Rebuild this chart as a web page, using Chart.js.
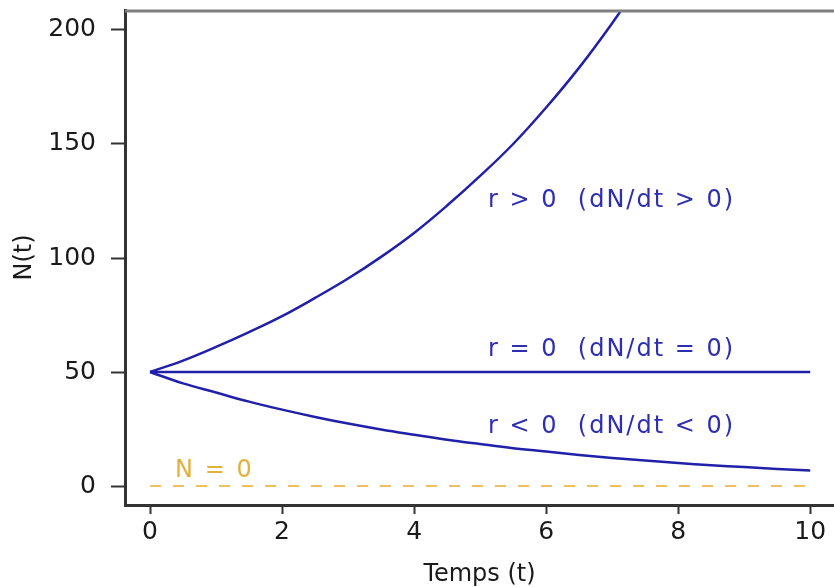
<!DOCTYPE html>
<html>
<head>
<meta charset="utf-8">
<script src="https://cdn.jsdelivr.net/npm/chart.js@4"></script>
<style>
  html, body { margin: 0; padding: 0; background: #fff; }
  #wrap { width: 834px; height: 587px; }
</style>
</head>
<body>
<div id="wrap"><canvas id="chart" width="834" height="587"></canvas></div>
<script>
// Data
const times = [0, 0.5, 1, 1.5, 2, 2.5, 3, 3.5, 4, 4.5, 5, 5.5, 6, 6.5, 7, 7.5, 8, 8.5, 9, 9.5, 10];
const growth = [50, 55, 61, 67.5, 74.5, 82.5, 91, 100.5, 111, 123, 136, 150, 166, 183.5, 203, 224];
const decline = [50, 45, 41, 37, 33.5, 30.3, 27.4, 24.8, 22.5, 20.3, 18.4, 16.6, 15.1, 13.6, 12.3, 11.2, 10.1, 9.1, 8.3, 7.5, 6.8];
const flatTimes = [0, 10];
const flat = [50, 50];
const zeroLine = [0, 0];

const xTicks = [0, 2, 4, 6, 8, 10];
const yTicks = [0, 50, 100, 150, 200];

const blue = "#2020a8";
const orange = "#f0c060";

// text labels on the plot
const notes = [
    { text: "r > 0  (dN/dt > 0)", x: 5.12, y: 125, color: "#2e2eb2" },
    { text: "r = 0  (dN/dt = 0)", x: 5.12, y: 59.6, color: "#2e2eb2" },
    { text: "r < 0  (dN/dt < 0)", x: 5.12, y: 25.9, color: "#2e2eb2" },
    { text: "N = 0", x: 0.38, y: 6.6, color: "#e4b03c" }
];

function pts(xs, ys) {
    return ys.map((v, i) => ({ x: xs[i], y: v }));
}

// Draw top frame line and text notes
const extras = {
    id: "extras",
    afterDatasetsDraw(chart) {
        const { ctx, chartArea, scales } = chart;
        ctx.save();
        ctx.strokeStyle = "#808080";
        ctx.lineWidth = 3;
        ctx.beginPath();
        ctx.moveTo(chartArea.left, chartArea.top + 1);
        ctx.lineTo(chartArea.right, chartArea.top + 1);
        ctx.stroke();

        ctx.font = "24px 'DejaVu Sans'";
        ctx.textBaseline = "middle";
        ctx.textAlign = "left";
        ctx.letterSpacing = "2px";
        notes.forEach((n) => {
            ctx.fillStyle = n.color;
            ctx.fillText(n.text, scales.x.getPixelForValue(n.x), scales.y.getPixelForValue(n.y));
        });
        ctx.restore();
    }
};

new Chart(document.getElementById("chart"), {
    type: "line",
    data: {
        datasets: [
            {
                data: pts(flatTimes, zeroLine),
                borderColor: orange,
                borderWidth: 2,
                borderDash: [11, 12],
                pointRadius: 0
            },
            {
                data: pts(times, growth),
                borderColor: blue,
                borderWidth: 2.5,
                pointRadius: 0,
                tension: 0.4
            },
            {
                data: pts(flatTimes, flat),
                borderColor: blue,
                borderWidth: 2.5,
                pointRadius: 0
            },
            {
                data: pts(times, decline),
                borderColor: blue,
                borderWidth: 2.5,
                pointRadius: 0,
                tension: 0.4
            }
        ]
    },
    options: {
        responsive: false,
        animation: false,
        layout: { padding: { top: 10, left: 0, right: 0, bottom: 0 } },
        plugins: {
            legend: { display: false },
            tooltip: { enabled: false }
        },
        scales: {
            x: {
                type: "linear",
                min: -0.379,
                max: 10.36,
                afterBuildTicks: (scale) => {
                    scale.ticks = xTicks.map((v) => ({ value: v }));
                },
                afterFit: (scale) => {
                    scale.height = 82;
                    scale.paddingLeft = 0;
                    scale.paddingRight = 0;
                },
                grid: {
                    drawOnChartArea: false,
                    tickLength: 9,
                    tickWidth: 2,
                    tickColor: "#333"
                },
                border: { color: "#333", width: 3 },
                ticks: {
                    color: "#1a1a1a",
                    padding: 3,
                    maxRotation: 0,
                    font: { family: "DejaVu Sans", size: 25 }
                },
                title: {
                    display: true,
                    text: "Temps (t)",
                    color: "#1a1a1a",
                    padding: { top: 0, bottom: 0 },
                    font: { family: "DejaVu Sans", size: 24, lineHeight: 1 }
                }
            },
            y: {
                type: "linear",
                min: -8.33,
                max: 208.77,
                afterBuildTicks: (scale) => {
                    scale.ticks = yTicks.map((v) => ({ value: v }));
                },
                afterFit: (scale) => {
                    scale.width = 125;
                    scale.paddingTop = 0;
                    scale.paddingBottom = 0;
                },
                grid: {
                    drawOnChartArea: false,
                    tickLength: 14,
                    tickWidth: 2,
                    tickColor: "#333"
                },
                border: { color: "#333", width: 3 },
                ticks: {
                    color: "#1a1a1a",
                    padding: 15,
                    font: { family: "DejaVu Sans", size: 25 }
                },
                title: {
                    display: true,
                    text: "N(t)",
                    color: "#1a1a1a",
                    padding: { top: 13, bottom: 0 },
                    font: { family: "DejaVu Sans", size: 24, lineHeight: 1 }
                }
            }
        }
    },
    plugins: [extras]
});
</script>
</body>
</html>
